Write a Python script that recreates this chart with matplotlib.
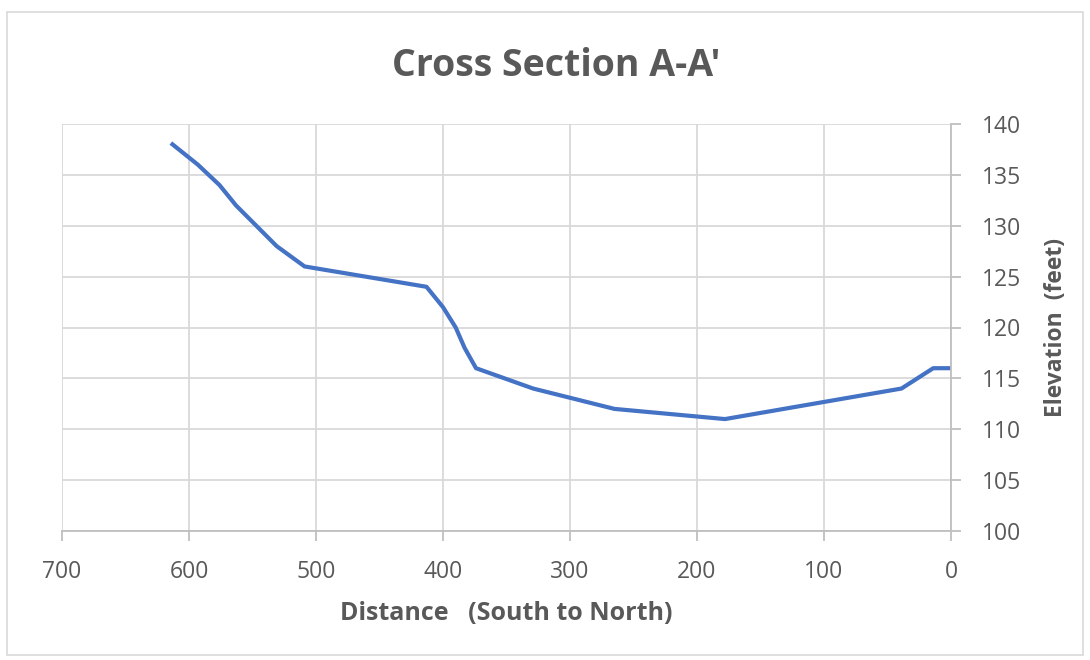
import numpy as np
import matplotlib.pyplot as plt
from matplotlib.patches import Rectangle

##############################################################################
# DATA
distance = [613, 593, 576, 563, 531, 509, 413, 400, 390, 383, 374, 329, 265, 178, 39, 14, 0]
elevation = [138, 136, 134, 132, 128, 126, 124, 122, 120, 118, 116, 114, 112, 111, 114, 116, 116]

x_ticks = [700, 600, 500, 400, 300, 200, 100, 0]
y_ticks = [100, 105, 110, 115, 120, 125, 130, 135, 140]

title = "Cross Section A-A'"
x_label = 'Distance   (South to North)'
y_label = 'Elevation  (feet)'

##############################################################################
# PLOT
plt.rcParams['font.family'] = ['Open Sans', 'DejaVu Sans']
text_color = '#595959'
grid_color = '#D9D9D9'
axis_color = '#BFBFBF'

fig = plt.figure(figsize=(10.9, 6.6), dpi=100)
ax = fig.add_axes([62/1090, 1 - 531/660, (951-62)/1090, (531-124)/660])

# outer chart border
fig.patches.append(Rectangle((7/1090, 1 - 655/660), 1076/1090, 643/660,
                             transform=fig.transFigure, fill=False,
                             edgecolor=grid_color, linewidth=1.2))

ax.plot(distance, elevation, color='#4472C4', linewidth=3.0, solid_joinstyle='round')

ax.set_xlim(700, 0)
ax.set_ylim(100, 140)
ax.set_xticks(x_ticks)
ax.set_yticks(y_ticks)
ax.yaxis.tick_right()
ax.yaxis.set_label_position('right')

ax.set_axisbelow(True)
ax.grid(True, color=grid_color, linewidth=1.3)
for side in ['top', 'left']:
    ax.spines[side].set_visible(False)
for side in ['bottom', 'right']:
    ax.spines[side].set_color(axis_color)
    ax.spines[side].set_linewidth(1.3)

ax.tick_params(axis='both', colors=axis_color, labelcolor=text_color,
               labelsize=16.5, length=7, width=1.3)
ax.tick_params(axis='x', pad=14)
ax.tick_params(axis='y', pad=15)

ax.set_xlabel(x_label, fontsize=18, fontweight='bold', color=text_color)
ax.xaxis.set_label_coords(0.5, -(613 - 531) / 407)
ax.xaxis.label.set_va('center')
ax.set_ylabel(y_label, fontsize=16.5, fontweight='bold', color=text_color)
ax.yaxis.set_label_coords((1056 - 62) / 889, 0.5)
ax.yaxis.label.set_va('center')
fig.text(556/1090, 1 - 66/660, title, fontsize=27, fontweight='bold',
         color=text_color, ha='center', va='center')

plt.savefig('out.png', dpi=100)
plt.close()
